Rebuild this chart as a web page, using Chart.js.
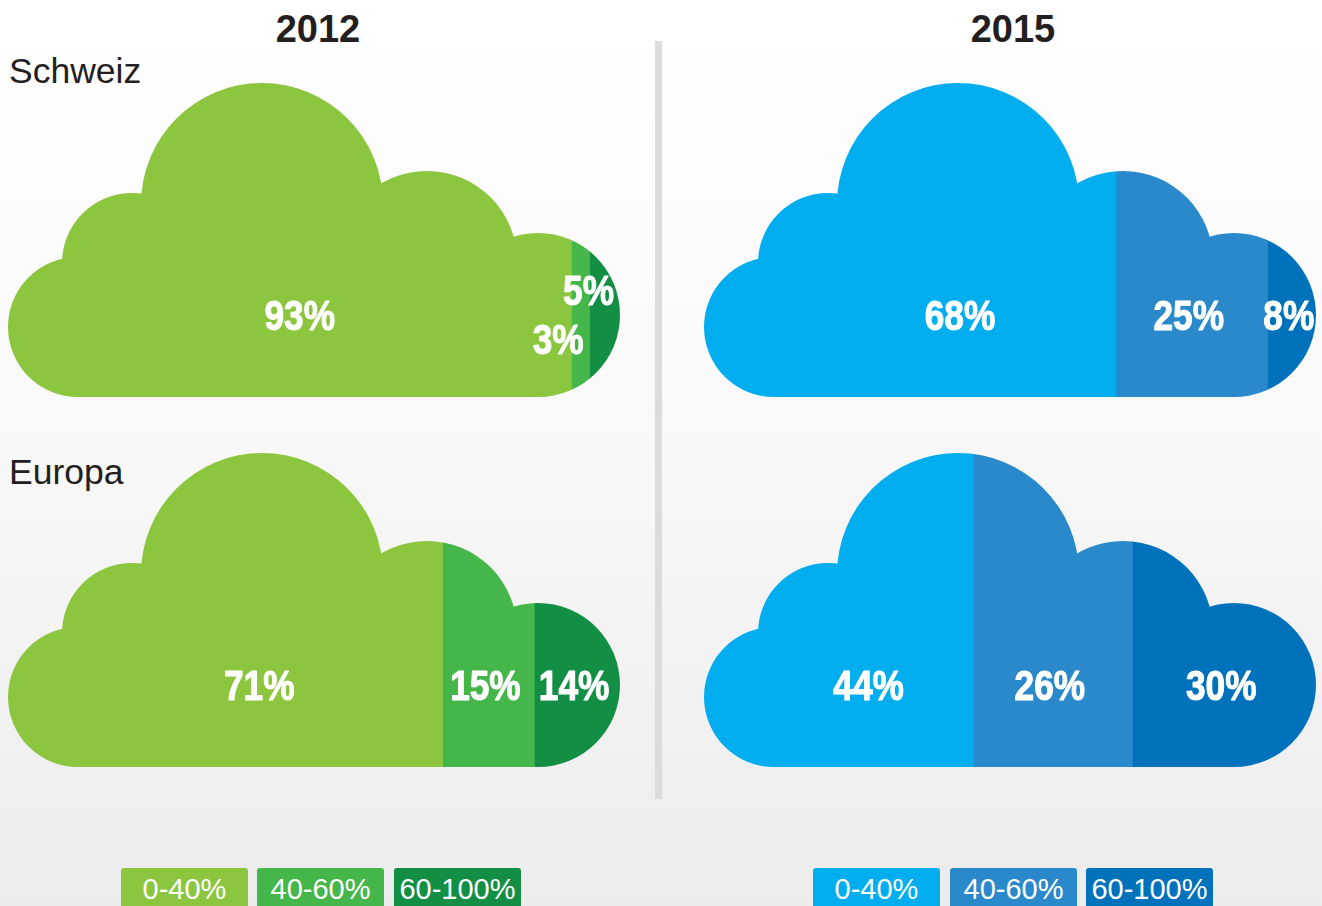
<!DOCTYPE html>
<html>
<head>
<meta charset="utf-8">
<script src="https://cdn.jsdelivr.net/npm/chart.js@4.4.1/dist/chart.umd.min.js"></script>
<style>
  html, body { margin: 0; padding: 0; }
  body {
    width: 1322px; height: 906px; overflow: hidden; position: relative;
    background: linear-gradient(to bottom, #ffffff 0%, #f9f9f9 45%, #ececec 100%);
    font-family: "Liberation Sans", Arial, Helvetica, sans-serif;
    color: #231f20;
  }
  .title { position: absolute; top: 10px; width: 200px; text-align: center;
           font-size: 38px; line-height: 38px; font-weight: bold; }
  .region { position: absolute; left: 9px; font-size: 35.5px; line-height: 36px; }
  canvas { position: absolute; }
  .divider { position: absolute; left: 655px; top: 41px; width: 7px; height: 758px; background: #dcdddb; }
  .leg { position: absolute; top: 868px; width: 127px; height: 42px; line-height: 42px;
         text-align: center; color: #fff; font-size: 29px; border-radius: 3px 3px 0 0; }
</style>
</head>
<body>
<div class="title" id="t0" style="left:218px"></div>
<div class="title" id="t1" style="left:913px"></div>
<div class="region" id="r0" style="top:53px"></div>
<div class="region" id="r1" style="top:454px"></div>
<div class="divider"></div>

<canvas id="c0" width="612" height="314" style="left:8px;top:83px"></canvas>
<canvas id="c1" width="612" height="314" style="left:8px;top:453px"></canvas>
<canvas id="c2" width="612" height="314" style="left:704px;top:83px"></canvas>
<canvas id="c3" width="612" height="314" style="left:704px;top:453px"></canvas>

<div id="legend"></div>

<script>
// ---- data ----
const years = ['2012', '2015'];
const regions = ['Schweiz', 'Europa'];
const bands = ['0-40%', '40-60%', '60-100%'];
const schweiz2012 = [93, 3, 5];
const europa2012 = [71, 15, 14];
const schweiz2015 = [68, 25, 8];
const europa2015 = [44, 26, 30];

// ---- styles ----
const greens = ['#8cc63f', '#45b649', '#138f45'];
const blues = ['#00aeef', '#2a89cb', '#0071bb'];

document.getElementById('t0').textContent = years[0];
document.getElementById('t1').textContent = years[1];
document.getElementById('r0').textContent = regions[0];
document.getElementById('r1').textContent = regions[1];

// legend boxes
const legendLefts = [[121, 257, 394], [813, 950, 1086]];
const legendColors = [greens, blues];
const legendEl = document.getElementById('legend');
legendLefts.forEach((lefts, g) => {
  lefts.forEach((l, i) => {
    const d = document.createElement('div');
    d.className = 'leg';
    d.style.left = l + 'px';
    d.style.background = legendColors[g][i];
    d.textContent = bands[i];
    legendEl.appendChild(d);
  });
});

// cloud outline in a 612 x 314 reference box
const CW = 612, CH = 314;
const lobes = [[70, 244, 70], [124, 180, 70], [254, 121, 121], [419, 178, 90], [530, 232, 82]];
const hull = [[70, 314], [70, 244], [124, 180], [254, 121], [419, 178], [530, 232], [530, 314]];

const LABEL_FONT = 'bold 43px "Liberation Sans", Arial, sans-serif';
const NARROW = 0.82; // condensed look

const cloudPlugin = {
  id: 'cloud',
  beforeDatasetsDraw(chart) {
    const { ctx, chartArea: a } = chart;
    const sx = a.width / CW, sy = a.height / CH;
    ctx.save();
    ctx.beginPath();
    lobes.forEach(([x, y, r]) => {
      ctx.moveTo(a.left + (x + r) * sx, a.top + y * sy);
      ctx.ellipse(a.left + x * sx, a.top + y * sy, r * sx, r * sy, 0, 0, Math.PI * 2);
    });
    hull.forEach(([x, y], i) => {
      const px = a.left + x * sx, py = a.top + y * sy;
      if (i === 0) ctx.moveTo(px, py); else ctx.lineTo(px, py);
    });
    ctx.closePath();
    ctx.clip();
  },
  afterDatasetsDraw(chart, args, opts) {
    const { ctx, chartArea: a } = chart;
    ctx.restore();
    const cy = a.top + 0.737 * a.height;
    const capHalf = 15.5;
    const n = chart.data.datasets.length;
    const segs = [];
    for (let i = 0; i < n; i++) {
      const el = chart.getDatasetMeta(i).data[0];
      const p = el.getProps(['x', 'base'], true);
      const x0 = Math.min(p.x, p.base), x1 = Math.max(p.x, p.base);
      segs.push({ i, x0, x1, narrow: (x1 - x0) < 40, text: chart.data.datasets[i].data[0] + '%' });
    }
    const draw = (text, x, y, align) => {
      ctx.save();
      ctx.translate(x, y);
      ctx.scale(NARROW, 1);
      ctx.font = LABEL_FONT;
      ctx.fillStyle = '#ffffff';
      ctx.strokeStyle = '#ffffff';
      ctx.lineWidth = 1.1;
      ctx.lineJoin = 'round';
      ctx.textBaseline = 'alphabetic';
      ctx.textAlign = align;
      ctx.fillText(text, 0, 0);
      ctx.strokeText(text, 0, 0);
      ctx.restore();
    };
    let k = 0;
    for (let j = segs.length - 1; j >= 0; j--) {
      const s = segs[j];
      if (s.narrow) {
        const dy = (k % 2 === 0) ? -24.5 : 24.5;
        k++;
        draw(s.text, s.x1 - 6, cy + dy + capHalf, 'right');
      } else {
        const shift = s.i === 0 ? (opts.firstShift || 0) : -3;
        draw(s.text, (s.x0 + s.x1) / 2 + shift, cy + capHalf, 'center');
      }
    }
  }
};

function makeCloud(id, values, colors, firstShift) {
  const total = values.reduce((s, v) => s + v, 0);
  return new Chart(document.getElementById(id), {
    type: 'bar',
    data: {
      labels: [''],
      datasets: values.map((v, i) => ({
        label: bands[i],
        data: [v],
        backgroundColor: colors[i],
        borderWidth: 0,
        barPercentage: 1,
        categoryPercentage: 1
      }))
    },
    options: {
      indexAxis: 'y',
      responsive: false,
      animation: false,
      layout: { padding: 0 },
      scales: {
        x: { stacked: true, display: false, min: 0, max: total },
        y: { stacked: true, display: false }
      },
      plugins: {
        legend: { display: false },
        tooltip: { enabled: false },
        cloud: { firstShift }
      }
    },
    plugins: [cloudPlugin]
  });
}

makeCloud('c0', schweiz2012, greens, 10);
makeCloud('c1', europa2012, greens, 34);
makeCloud('c2', schweiz2015, blues, 50);
makeCloud('c3', europa2015, blues, 30);
</script>
</body>
</html>
